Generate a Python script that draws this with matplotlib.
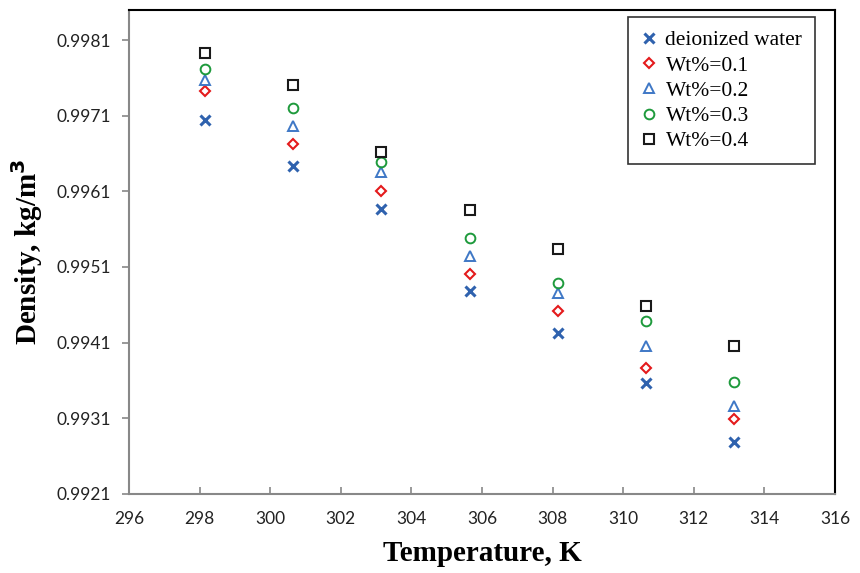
import matplotlib
matplotlib.use("Agg")
import matplotlib.pyplot as plt

temps = [298.15, 300.65, 303.15, 305.65, 308.15, 310.65, 313.15]
water = [0.99704, 0.99644, 0.99586, 0.99478, 0.99423, 0.99356, 0.99278]
wt01 = [0.99742, 0.99673, 0.99610, 0.99501, 0.99452, 0.99377, 0.99309]
wt02 = [0.99757, 0.99696, 0.99635, 0.99525, 0.99475, 0.99405, 0.99326]
wt03 = [0.99772, 0.99720, 0.99649, 0.99548, 0.99489, 0.99438, 0.99358]
wt04 = [0.99793, 0.99751, 0.99662, 0.99585, 0.99534, 0.99458, 0.99406]
labels = ["deionized water", "Wt%=0.1", "Wt%=0.2", "Wt%=0.3", "Wt%=0.4"]
xticks = [296, 298, 300, 302, 304, 306, 308, 310, 312, 314, 316]
yticks = [0.9921, 0.9931, 0.9941, 0.9951, 0.9961, 0.9971, 0.9981]

fig = plt.figure(figsize=(8.6, 5.73), dpi=100)
ax = fig.add_axes([0.15, 0.138, 0.821, 0.845])

styles = [
    dict(marker="x", color="#2F62AE", ms=7, mew=2.2),
    dict(marker="D", color="#E41A1C", ms=5, mew=1.5, mfc="none"),
    dict(marker="^", color="#3F78C6", ms=7, mew=1.4, mfc="none"),
    dict(marker="o", color="#1E9A3C", ms=7, mew=1.4, mfc="none"),
    dict(marker="s", color="#1A1A1A", ms=7, mew=1.5, mfc="none"),
]
for ys, lab, st in zip([water, wt01, wt02, wt03, wt04], labels, styles):
    ax.plot(temps, ys, linestyle="none", label=lab, **st)

ax.set_xlim(296, 316)
ax.set_ylim(0.9921, 0.9985)
ax.set_xticks(xticks)
ax.set_yticks(yticks)
ax.set_xticklabels([str(t) for t in xticks])
ax.set_yticklabels([f"{t:.4f}" for t in yticks])
for lab in ax.get_xticklabels() + ax.get_yticklabels():
    lab.set_fontfamily("Lato")
    lab.set_fontsize(12.5)
    lab.set_color("#222222")

ax.tick_params(axis="x", direction="in", length=5, color="#888888", width=1.2, pad=12)
ax.tick_params(axis="y", direction="out", length=5, color="#888888", width=1.2, pad=8)
for s in ["left", "bottom"]:
    ax.spines[s].set_color("#888888")
    ax.spines[s].set_linewidth(1.5)
for s in ["top", "right"]:
    ax.spines[s].set_color("black")
    ax.spines[s].set_linewidth(1.5)

ax.set_xlabel("Temperature, K", fontfamily="Liberation Serif", fontweight="bold", fontsize=21, labelpad=10)
ax.set_ylabel("Density, kg/m$^\\mathbf{3}$", fontfamily="Liberation Serif", fontweight="bold", fontsize=21, labelpad=8)

leg = ax.legend(loc="upper right", bbox_to_anchor=(0.972, 0.984), frameon=True, fancybox=False,
                edgecolor="black", prop={"family": "Liberation Serif", "size": 15.5},
                handlelength=0.8, handletextpad=0.35, borderpad=0.6, labelspacing=0.24,
                borderaxespad=0)
leg.get_frame().set_linewidth(1.2)

fig.savefig("out.png", dpi=100)
